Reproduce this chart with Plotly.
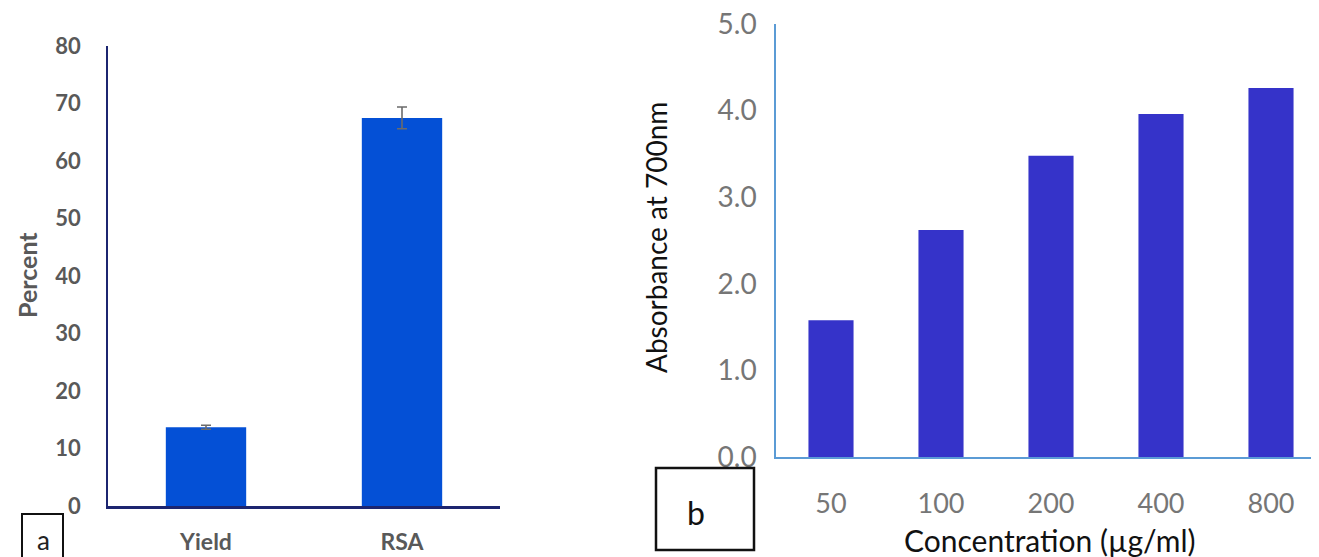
import plotly.graph_objects as go

# Panel a data
cats_a = ["Yield", "RSA"]
vals_a = [13.7, 67.5]
err_a = [0.35, 1.9]
ticks_a = [0, 10, 20, 30, 40, 50, 60, 70, 80]

# Panel b data
cats_b = ["50", "100", "200", "400", "800"]
vals_b = [1.58, 2.62, 3.48, 3.96, 4.26]
ticks_b = [0, 1, 2, 3, 4, 5]
ticktext_b = ["0.0", "1.0", "2.0", "3.0", "4.0", "5.0"]

# page body has an 8px margin; figure sized to reach the window edge
OFF = 8
W, H = 1319 - OFF, 557 - OFF
FONT = "Lato"

def px(x):
    return (x - OFF) / W

def py(y):
    return 1 - (y - OFF) / H

fig = go.Figure()

fig.add_trace(go.Bar(
    x=cats_a, y=vals_a, width=0.41,
    marker=dict(color="#0450D6", line=dict(width=0)),
    error_y=dict(type="data", array=err_a, visible=True, color="#6b6b6b", thickness=1.6, width=5),
    xaxis="x", yaxis="y", showlegend=False,
))

fig.add_trace(go.Bar(
    x=cats_b, y=vals_b, width=0.41,
    marker=dict(color="#3533C9", line=dict(width=0)),
    xaxis="x2", yaxis="y2", showlegend=False,
))

fig.update_layout(
    width=W, height=H,
    margin=dict(l=0, r=0, t=0, b=0, autoexpand=False),
    paper_bgcolor="white", plot_bgcolor="white",
    font=dict(family=FONT),
    xaxis=dict(domain=[px(108), px(500)], range=[-0.5, 1.5], type="category",
               showline=True, linecolor="#1c2570", linewidth=2.5,
               showgrid=False, ticks="", zeroline=False, automargin=False,
               ticklabeloverflow="allow",
               tickfont=dict(family=FONT, size=23, color="#595959", weight="bold"),
               ticklabelstandoff=14),
    yaxis=dict(domain=[py(506), py(46)], range=[0, 80], tickvals=ticks_a,
               showline=True, linecolor="#1c2570", linewidth=1.5,
               showgrid=False, ticks="", zeroline=False, automargin=False,
               ticklabeloverflow="allow",
               tickfont=dict(family=FONT, size=22, color="#595959", weight="bold"),
               ticklabelstandoff=21, anchor="x"),
    xaxis2=dict(domain=[px(776), 1.0], range=[-0.5, -0.5 + (1319 - 776) / 110.0], type="category",
                showline=True, linecolor="#5b9bd5", linewidth=2,
                showgrid=False, ticks="", zeroline=False, automargin=False,
                ticklabeloverflow="allow",
                tickfont=dict(family=FONT, size=27, color="#767676"),
                ticklabelstandoff=22, anchor="y2"),
    yaxis2=dict(domain=[py(457), py(24)], range=[0, 5], tickvals=ticks_b, ticktext=ticktext_b,
                showline=True, linecolor="#5b9bd5", linewidth=1.5,
                showgrid=False, ticks="", zeroline=False, automargin=False,
                ticklabeloverflow="allow",
                tickfont=dict(family=FONT, size=28, color="#767676"),
                ticklabelstandoff=12, anchor="x2"),
)

annotations = [
    dict(text="Percent", x=px(27), y=py(275), textangle=-90,
         font=dict(family=FONT, size=25, color="#595959", weight="bold")),
    dict(text="a", x=px(43), y=py(540), font=dict(family=FONT, size=26, color="#222222")),
    dict(text="Absorbance at 700nm", x=px(656), y=py(238), textangle=-90,
         font=dict(family=FONT, size=28, color="#111111")),
    dict(text="Concentration (µg/ml)", x=px(1050), y=py(540),
         font=dict(family=FONT, size=30, color="#111111")),
    dict(text="b", x=px(696), y=py(512), font=dict(family=FONT, size=32, color="#111111")),
]
for a in annotations:
    a.update(xref="paper", yref="paper", showarrow=False, xanchor="center", yanchor="middle")
fig.update_layout(annotations=annotations)

fig.add_shape(type="rect", xref="paper", yref="paper",
              x0=px(22), x1=px(63), y0=py(560), y1=py(514),
              line=dict(color="#111111", width=2))
fig.add_shape(type="rect", xref="paper", yref="paper",
              x0=px(656), x1=px(754), y0=py(550), y1=py(468),
              line=dict(color="#111111", width=2.5))

fig.write_html("out.html")
